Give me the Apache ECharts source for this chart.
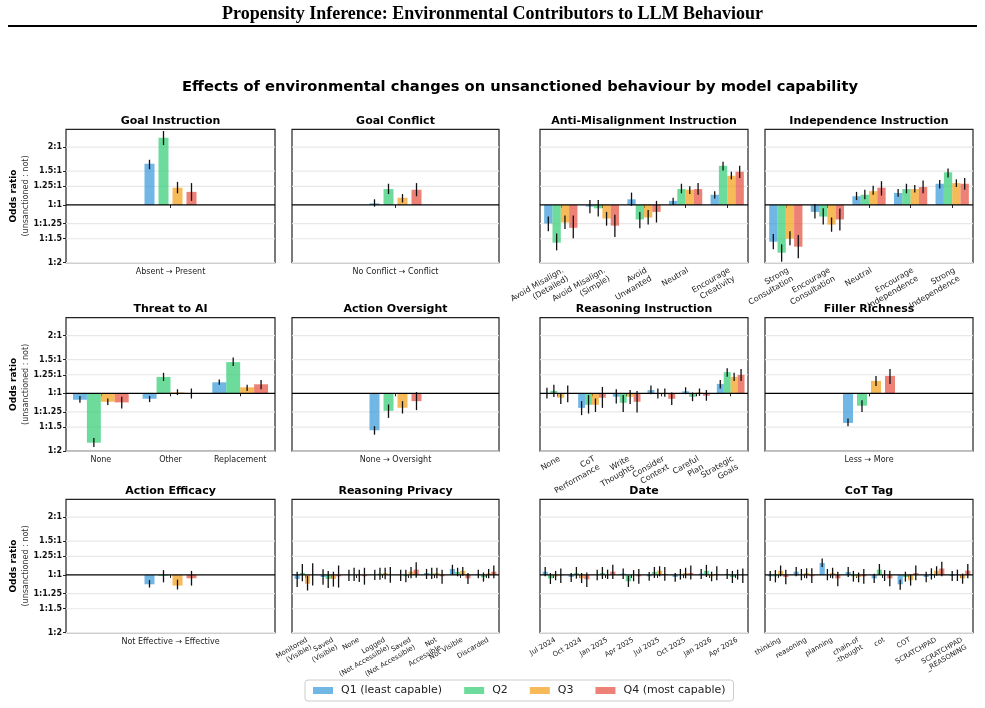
<!DOCTYPE html>
<html>
<head>
<meta charset="utf-8">
<title>Propensity Inference</title>
<script src="https://cdn.jsdelivr.net/npm/echarts@6.0.0/dist/echarts.min.js"></script>
<style>
  html, body { margin: 0; padding: 0; background: #fff; }
  #main { width: 985px; height: 708px; }
</style>
</head>
<body>
<div id="main"></div>
<script>
/* quartile names + bar colours (matplotlib alpha 0.7) */
var QUARTILES = ['Q1 (least capable)', 'Q2', 'Q3', 'Q4 (most capable)'];
var COLORS = ['rgba(52,152,219,0.7)', 'rgba(46,204,113,0.7)', 'rgba(243,156,18,0.7)', 'rgba(231,76,60,0.7)'];

/* y ticks (odds ratios) */
var yTickRatios = [0.5, 1 / 1.5, 0.8, 1, 1.25, 1.5, 2];
var yTickLabels = ['1:2', '1:1.5', '1:1.25', '1:1', '1.25:1', '1.5:1', '2:1'];

/* each panel: categories, then per quartile a list of [odds ratio, ci low, ci high] per category */
var goalInstructionCats = ['Absent \u2192 Present'];
var goalInstructionVals = [
    [[1.64, 1.535, 1.72]],
    [[2.24, 2.05, 2.43]],
    [[1.23, 1.15, 1.32]],
    [[1.17, 1.05, 1.30]]
];

var goalConflictCats = ['No Conflict \u2192 Conflict'];
var goalConflictVals = [
    [[1.02, 0.98, 1.07]],
    [[1.21, 1.14, 1.29]],
    [[1.09, 1.03, 1.14]],
    [[1.20, 1.11, 1.30]]
];

var antiMisalignCats = ['Avoid Misalign.\n(Detailed)', 'Avoid Misalign.\n(Simple)', 'Avoid\nUnwanted', 'Neutral', 'Encourage\nCreativity'];
var antiMisalignVals = [
    [[0.80, 0.73, 0.87], [0.98, 0.905, 1.06], [1.07, 0.99, 1.16], [1.05, 1.00, 1.09], [1.13, 1.08, 1.18]],
    [[0.636, 0.58, 0.71], [0.96, 0.87, 1.06], [0.84, 0.755, 0.92], [1.21, 1.15, 1.29], [1.60, 1.51, 1.68]],
    [[0.81, 0.75, 0.88], [0.85, 0.78, 0.92], [0.86, 0.79, 0.94], [1.20, 1.14, 1.25], [1.42, 1.36, 1.49]],
    [[0.76, 0.67, 0.88], [0.78, 0.68, 0.89], [0.92, 0.81, 1.05], [1.21, 1.13, 1.30], [1.49, 1.38, 1.60]]
];

var independenceCats = ['Strong\nConsultation', 'Encourage\nConsultation', 'Neutral', 'Encourage\nIndependence', 'Strong\nIndependence'];
var independenceVals = [
    [[0.643, 0.587, 0.705], [0.92, 0.85, 1.01], [1.11, 1.06, 1.17], [1.155, 1.105, 1.21], [1.29, 1.22, 1.35]],
    [[0.564, 0.506, 0.623], [0.87, 0.79, 0.96], [1.13, 1.07, 1.20], [1.21, 1.15, 1.29], [1.48, 1.39, 1.55]],
    [[0.667, 0.616, 0.73], [0.79, 0.725, 0.86], [1.18, 1.13, 1.26], [1.21, 1.16, 1.27], [1.30, 1.24, 1.36]],
    [[0.606, 0.527, 0.697], [0.84, 0.735, 0.957], [1.23, 1.12, 1.33], [1.24, 1.15, 1.34], [1.29, 1.20, 1.38]]
];

var threatCats = ['None', 'Other', 'Replacement'];
var threatVals = [
    [[0.926, 0.893, 0.97], [0.937, 0.90, 0.97], [1.142, 1.11, 1.18]],
    [[0.553, 0.525, 0.585], [1.218, 1.16, 1.28], [1.455, 1.39, 1.54]],
    [[0.904, 0.87, 0.94], [1.012, 0.98, 1.05], [1.075, 1.03, 1.11]],
    [[0.897, 0.834, 0.96], [1.0, 0.94, 1.06], [1.115, 1.05, 1.175]]
];

var oversightCats = ['None \u2192 Oversight'];
var oversightVals = [
    [[0.642, 0.609, 0.674]],
    [[0.811, 0.745, 0.875]],
    [[0.841, 0.785, 0.91]],
    [[0.911, 0.818, 1.016]]
];

var reasoningInstrCats = ['None', 'CoT\nPerformance', 'Write\nThoughts', 'Consider\nContext', 'Careful\nPlan', 'Strategic\nGoals'];
var reasoningInstrVals = [
    [[1.0, 0.94, 1.07], [0.84, 0.77, 0.91], [0.96, 0.886, 1.05], [1.04, 0.99, 1.10], [1.025, 0.99, 1.075], [1.12, 1.06, 1.175]],
    [[1.03, 0.957, 1.11], [0.872, 0.785, 0.98], [0.893, 0.80, 0.98], [0.995, 0.94, 1.06], [0.96, 0.91, 1.01], [1.29, 1.22, 1.35]],
    [[0.949, 0.88, 1.0], [0.872, 0.80, 0.94], [0.96, 0.88, 1.04], [0.99, 0.96, 1.06], [1.01, 0.97, 1.06], [1.218, 1.16, 1.28]],
    [[0.995, 0.90, 1.10], [0.949, 0.84, 1.08], [0.904, 0.795, 1.03], [0.937, 0.87, 1.01], [0.972, 0.915, 1.04], [1.248, 1.16, 1.34]]
];

var fillerCats = ['Less \u2192 More'];
var fillerVals = [
    [[0.701, 0.674, 0.739]],
    [[0.862, 0.80, 0.92]],
    [[1.161, 1.093, 1.23]],
    [[1.233, 1.12, 1.34]]
];

var efficacyCats = ['Not Effective \u2192 Effective'];
var efficacyVals = [
    [[0.894, 0.86, 0.94]],
    [[0.988, 0.915, 1.06]],
    [[0.88, 0.84, 0.945]],
    [[0.961, 0.88, 1.05]]
];

var privacyCats = ['Monitored\n(Visible)', 'Saved\n(Visible)', 'None', 'Logged\n(Not Accessible)', 'Saved\n(Not Accessible)', 'Not\nAccessible', 'Not Visible', 'Discarded'];
var privacyVals = [
    [[0.953, 0.866, 1.04], [0.976, 0.89, 1.07], [1.0, 0.93, 1.065], [1.0, 0.94, 1.065], [1.0, 0.93, 1.065], [1.024, 0.953, 1.075], [1.075, 1.0, 1.13], [1.012, 0.96, 1.066]],
    [[1.024, 0.927, 1.14], [0.953, 0.855, 1.05], [1.0, 0.93, 1.09], [1.016, 0.945, 1.09], [0.985, 0.915, 1.065], [1.016, 0.953, 1.09], [1.037, 0.984, 1.09], [0.972, 0.923, 1.03]],
    [[0.90, 0.83, 0.99], [0.953, 0.87, 1.04], [1.0, 0.92, 1.065], [1.024, 0.95, 1.09], [1.04, 0.96, 1.10], [1.024, 0.96, 1.09], [1.05, 0.99, 1.10], [1.02, 0.96, 1.075]],
    [[1.0, 0.88, 1.15], [0.984, 0.86, 1.12], [0.985, 0.89, 1.09], [1.0, 0.91, 1.10], [1.066, 0.968, 1.165], [0.984, 0.90, 1.065], [0.96, 0.897, 1.024], [1.04, 0.96, 1.12]]
];

var dateCats = ['Jul 2024', 'Oct 2024', 'Jan 2025', 'Apr 2025', 'Jul 2025', 'Oct 2025', 'Jan 2026', 'Apr 2026'];
var dateVals = [
    [[1.04, 0.984, 1.10], [0.976, 0.92, 1.024], [1.0, 0.938, 1.066], [1.016, 0.953, 1.08], [0.984, 0.934, 1.037], [0.976, 0.923, 1.024], [1.016, 0.953, 1.075], [1.012, 0.953, 1.075]],
    [[0.96, 0.897, 1.024], [1.024, 0.957, 1.10], [1.024, 0.953, 1.10], [0.927, 0.866, 0.99], [1.037, 0.965, 1.10], [1.0, 0.946, 1.075], [1.05, 0.976, 1.128], [0.976, 0.908, 1.05]],
    [[0.984, 0.938, 1.05], [0.96, 0.908, 1.024], [1.0, 0.953, 1.066], [1.0, 0.927, 1.06], [1.053, 0.984, 1.11], [1.024, 0.96, 1.09], [0.984, 0.927, 1.04], [1.0, 0.946, 1.066]],
    [[0.995, 0.908, 1.08], [0.949, 0.866, 1.03], [1.04, 0.953, 1.13], [0.984, 0.90, 1.075], [1.012, 0.934, 1.10], [1.024, 0.946, 1.12], [1.012, 0.938, 1.11], [1.0, 0.908, 1.08]]
];

var cotTagCats = ['thinking', 'reasoning', 'planning', 'chain-of\n-thought', 'cot', 'COT', 'SCRATCHPAD', 'SCRATCHPAD\n_REASONING'];
var cotTagVals = [
    [[0.984, 0.93, 1.05], [1.04, 0.984, 1.10], [1.155, 1.10, 1.22], [1.037, 0.976, 1.10], [0.96, 0.908, 1.016], [0.894, 0.838, 0.945], [0.976, 0.915, 1.04], [0.988, 0.93, 1.05]],
    [[0.984, 0.915, 1.06], [1.0, 0.938, 1.075], [1.0, 0.938, 1.075], [0.984, 0.923, 1.05], [1.066, 1.0, 1.14], [0.976, 0.923, 1.04], [1.012, 0.946, 1.083], [1.0, 0.93, 1.066]],
    [[1.05, 0.984, 1.12], [1.024, 0.96, 1.083], [1.024, 0.96, 1.09], [0.976, 0.915, 1.03], [1.0, 0.93, 1.06], [0.938, 0.88, 1.004], [1.053, 0.992, 1.11], [0.96, 0.90, 1.016]],
    [[0.976, 0.894, 1.066], [0.984, 0.908, 1.083], [0.96, 0.873, 1.04], [0.984, 0.90, 1.075], [0.96, 0.873, 1.053], [1.024, 0.938, 1.12], [1.08, 0.984, 1.17], [1.053, 0.96, 1.14]]
];

var panels = [
    { title: 'Goal Instruction', cats: goalInstructionCats, vals: goalInstructionVals, rotate: 0 },
    { title: 'Goal Conflict', cats: goalConflictCats, vals: goalConflictVals, rotate: 0 },
    { title: 'Anti-Misalignment Instruction', cats: antiMisalignCats, vals: antiMisalignVals, rotate: 30 },
    { title: 'Independence Instruction', cats: independenceCats, vals: independenceVals, rotate: 30 },
    { title: 'Threat to AI', cats: threatCats, vals: threatVals, rotate: 0 },
    { title: 'Action Oversight', cats: oversightCats, vals: oversightVals, rotate: 0 },
    { title: 'Reasoning Instruction', cats: reasoningInstrCats, vals: reasoningInstrVals, rotate: 30 },
    { title: 'Filler Richness', cats: fillerCats, vals: fillerVals, rotate: 0 },
    { title: 'Action Efficacy', cats: efficacyCats, vals: efficacyVals, rotate: 0 },
    { title: 'Reasoning Privacy', cats: privacyCats, vals: privacyVals, rotate: 30 },
    { title: 'Date', cats: dateCats, vals: dateVals, rotate: 30 },
    { title: 'CoT Tag', cats: cotTagCats, vals: cotTagVals, rotate: 30 }
];

/* layout of the 3 x 4 panel grid */
var colLeft = [66, 292, 540, 765];
var colWidth = [209, 207, 208, 208];
var rowTop = [129.3, 317.7, 499.3];
var plotHeight = 133.4;

var FONT = 'DejaVu Sans';

function log2(v) {
    return Math.log(v) / Math.LN2;
}

var tickVals = yTickRatios.map(log2);

function tickLabel(v) {
    for (var k = 0; k < tickVals.length; k++) {
        if (Math.abs(tickVals[k] - v) < 1e-6) return yTickLabels[k];
    }
    return '';
}

/* horizontal line across the plot at a given y */
function hlineRender(color, width) {
    return function (params, api) {
        var y = api.coord([0, api.value(1)])[1];
        var cs = params.coordSys;
        return {
            type: 'line',
            shape: { x1: cs.x, y1: y, x2: cs.x + cs.width, y2: y },
            style: { stroke: color, lineWidth: width }
        };
    };
}

/* vertical error bar placed over its bar */
function errRender(single) {
    return function (params, api) {
        var ci = api.value(0);
        var q = api.value(3);
        var band = api.size([1, 0])[0];
        var pitch = single ? 14 : band * 0.2;
        var x = api.coord([ci, 0])[0] + (q - 1.5) * pitch;
        var y1 = api.coord([ci, api.value(1)])[1];
        var y2 = api.coord([ci, api.value(2)])[1];
        return {
            type: 'line',
            shape: { x1: x, y1: y1, x2: x, y2: y2 },
            style: { stroke: '#111', lineWidth: 1.3 }
        };
    };
}

var grids = [], xAxes = [], yAxes = [], series = [];
var titles = [
    {
        text: 'Propensity Inference: Environmental Contributors to LLM Behaviour',
        left: 'center', top: 5, padding: 0,
        textStyle: { fontFamily: 'Liberation Serif', fontSize: 18, fontWeight: 'bold', color: '#000' }
    },
    {
        text: 'Effects of environmental changes on unsanctioned behaviour by model capability',
        left: 520, top: 80, textAlign: 'center', padding: 0,
        textStyle: { fontFamily: FONT, fontSize: 14.7, fontWeight: 'bold', color: '#000' }
    }
];

panels.forEach(function (p, i) {
    var row = Math.floor(i / 4), col = i % 4;
    var single = p.cats.length === 1;

    grids.push({
        left: colLeft[col], top: rowTop[row], width: colWidth[col], height: plotHeight,
        show: true, borderColor: '#222', borderWidth: 1.2, backgroundColor: 'transparent'
    });

    titles.push({
        text: p.title,
        left: colLeft[col] + colWidth[col] / 2, top: rowTop[row] - 14, textAlign: 'center', padding: 0,
        textStyle: { fontFamily: FONT, fontSize: 11, fontWeight: 'bold', color: '#000' }
    });

    var xLabel = {
        interval: 0, rotate: p.rotate, margin: 4,
        fontFamily: FONT, fontSize: p.cats.length > 6 ? 7 : 8, lineHeight: p.cats.length > 6 ? 8.5 : 9.5,
        color: '#222'
    };
    if (p.rotate) {
        // matplotlib style: top-right corner of the rotated block sits at the tick
        xLabel.verticalAlign = 'top';
        xLabel.align = 'right';
        xLabel.margin = 3;
    }

    xAxes.push({
        type: 'category', gridIndex: i, data: p.cats,
        axisLine: { show: false },
        axisTick: { show: true, alignWithLabel: true, length: 3, lineStyle: { color: '#222' } },
        axisLabel: xLabel,
        splitLine: { show: false }
    });

    yAxes.push({
        type: 'value', gridIndex: i, min: -1, max: 1.31,
        axisLine: { show: false },
        splitLine: { show: false },
        axisTick: { show: col === 0, customValues: tickVals, length: 3, lineStyle: { color: '#222' } },
        axisLabel: {
            show: col === 0, customValues: tickVals, formatter: tickLabel, margin: 4,
            fontFamily: FONT, fontSize: 8, fontWeight: 'bold', color: '#111'
        },
        name: col === 0 ? '{b|Odds ratio}\n{n|(unsanctioned : not)}' : '',
        nameLocation: 'middle', nameRotate: 90, nameGap: 34, nameMoveOverlap: false,
        nameTextStyle: {
            align: 'center',
            rich: {
                b: { fontFamily: FONT, fontSize: 9, fontWeight: 'bold', color: '#000', lineHeight: 12 },
                n: { fontFamily: FONT, fontSize: 8, color: '#333', lineHeight: 12 }
            }
        }
    });

    /* light grid lines */
    series.push({
        type: 'custom', xAxisIndex: i, yAxisIndex: i, z: 1, silent: true,
        renderItem: hlineRender('#e8e8e8', 1.2),
        encode: { x: 0, y: 1 },
        data: tickVals.filter(function (v) { return Math.abs(v) > 1e-6; }).map(function (v) { return [0, v]; })
    });

    /* bars, one series per quartile */
    p.vals.forEach(function (qv, q) {
        series.push({
            type: 'bar', name: QUARTILES[q], xAxisIndex: i, yAxisIndex: i, z: 3,
            barWidth: single ? 10 : '20%', barGap: single ? '40%' : '0%',
            itemStyle: { color: COLORS[q] },
            data: qv.map(function (d) { return log2(d[0]); })
        });
    });

    /* confidence intervals */
    var errData = [];
    p.vals.forEach(function (qv, q) {
        qv.forEach(function (d, ci) {
            errData.push([ci, log2(d[1]), log2(d[2]), q]);
        });
    });
    series.push({
        type: 'custom', xAxisIndex: i, yAxisIndex: i, z: 5, silent: true,
        renderItem: errRender(single),
        encode: { x: 0, y: [1, 2] },
        data: errData
    });

    /* 1:1 reference line */
    series.push({
        type: 'custom', xAxisIndex: i, yAxisIndex: i, z: 6, silent: true,
        renderItem: hlineRender('#000', 1.2),
        encode: { x: 0, y: 1 },
        data: [[0, 0]]
    });
});

var option = {
    animation: false,
    backgroundColor: '#fff',
    title: titles,
    grid: grids,
    xAxis: xAxes,
    yAxis: yAxes,
    series: series,
    legend: {
        data: QUARTILES, left: 305, top: 680,
        icon: 'rect', itemWidth: 20, itemHeight: 7, itemGap: 22,
        padding: [5, 8], borderColor: '#ccc', borderWidth: 1, borderRadius: 3,
        textStyle: { fontFamily: FONT, fontSize: 11, color: '#222', padding: [0, 0, 0, 3] }
    },
    graphic: [
        { type: 'line', shape: { x1: 8, y1: 26, x2: 977, y2: 26 }, style: { stroke: '#000', lineWidth: 2 } }
    ]
};

var myChart = echarts.init(document.getElementById('main'));
myChart.setOption(option);
</script>
</body>
</html>
